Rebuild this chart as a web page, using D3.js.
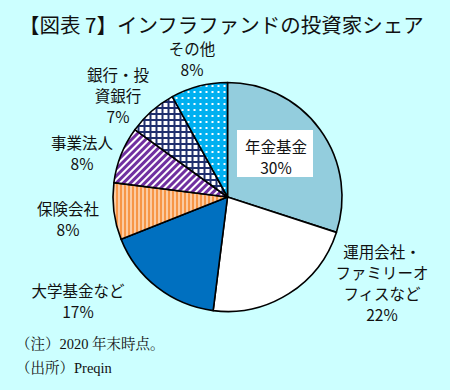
<!DOCTYPE html>
<html><head><meta charset="utf-8">
<script src="https://cdn.jsdelivr.net/npm/d3@7"></script>
<style>
html,body{margin:0;padding:0;background:#ccffff;}
svg{display:block;}
</style></head>
<body>
<script>
const categories = ["年金基金","運用会社・ファミリーオフィスなど","大学基金など","保険会社","事業法人","銀行・投資銀行","その他"];
const values = [30,22,17,8,8,7,8];
const labelLines = [["年金基金","30%"],["運用会社・","ファミリーオ","フィスなど","22%"],["大学基金など","17%"],["保険会社","8%"],["事業法人","8%"],["銀行・投","資銀行","7%"],["その他","8%"]];
const title = "【図表 7】インフラファンドの投資家シェア";
const notes = ["（注）2020 年末時点。","（出所）Preqin"];

const W=450,H=390;
const svg=d3.select("body").append("svg").attr("width",W).attr("height",H);
svg.append("rect").attr("width",W).attr("height",H).attr("fill","#ccffff");

const defs=svg.append("defs");
const pd=defs.append("pattern").attr("id","dots").attr("patternUnits","userSpaceOnUse").attr("width",6).attr("height",6);
pd.append("rect").attr("width",6).attr("height",6).attr("fill","#00b0f0");
pd.append("rect").attr("x",2).attr("y",2).attr("width",2).attr("height",2).attr("fill","#fff");
const pg=defs.append("pattern").attr("id","grid").attr("patternUnits","userSpaceOnUse").attr("width",6).attr("height",6);
pg.append("rect").attr("width",6).attr("height",6).attr("fill","#fff");
pg.append("rect").attr("width",6).attr("height",2).attr("fill","#1f2f6e");
pg.append("rect").attr("width",2).attr("height",6).attr("fill","#1f2f6e");
const pdi=defs.append("pattern").attr("id","diag").attr("patternUnits","userSpaceOnUse").attr("width",5).attr("height",5).attr("patternTransform","rotate(45)");
pdi.append("rect").attr("width",5).attr("height",5).attr("fill","#fff");
pdi.append("rect").attr("width",3).attr("height",5).attr("fill","#7030a0");
const pv=defs.append("pattern").attr("id","vert").attr("patternUnits","userSpaceOnUse").attr("width",4).attr("height",4);
pv.append("rect").attr("width",4).attr("height",4).attr("fill","#fff");
pv.append("rect").attr("width",3).attr("height",4).attr("fill","#f79646");

const fills=["#93cddd","#ffffff","#0070c0","url(#vert)","url(#diag)","url(#grid)","url(#dots)"];

svg.append("text").attr("x",19).attr("y",33).attr("font-family","Noto Sans CJK JP").attr("font-size",20.5).attr("font-weight",400).attr("fill","#111").text(title);

const cx=227.5, cy=197, r=114.5;
const pie=d3.pie().sort(null).value(d=>d);
const arcs=pie(values);
const arc=d3.arc().innerRadius(0).outerRadius(r);
const g=svg.append("g").attr("transform",`translate(${cx},${cy})`);
g.selectAll("path").data(arcs).join("path").attr("d",arc).attr("fill",(d,i)=>fills[i]).attr("stroke","#000").attr("stroke-width",1.6).attr("stroke-linejoin","round");

const labelPos=[[276,153],[382,258],[78,297],[68,215],[82,149],[118,81],[192,55]];
svg.append("rect").attr("x",237).attr("y",130).attr("width",76).attr("height",47).attr("fill","#fff");
labelLines.forEach((lines,i)=>{
  const t=svg.append("text").attr("font-family","Noto Sans CJK JP").attr("font-size",15.5).attr("fill","#111").attr("text-anchor","middle");
  lines.forEach((s,k)=>{
    t.append("tspan").attr("x",labelPos[i][0]).attr("y",labelPos[i][1]+k*21).text(s);
  });
});

notes.forEach((s,k)=>{
  svg.append("text").attr("x",16).attr("y",349+k*24).attr("font-family","Liberation Serif, Noto Serif CJK JP, serif").attr("font-size",14.5).attr("fill","#111").text(s);
});
</script>
</body></html>
